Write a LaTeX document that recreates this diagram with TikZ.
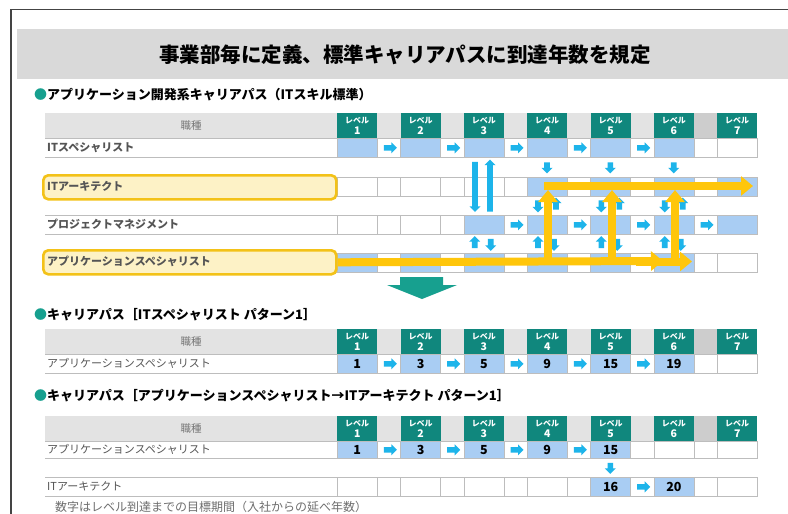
\documentclass[tikz,border=0pt]{standalone}
\usepackage{fontspec}
\setmainfont{Noto Sans CJK JP}
\usetikzlibrary{shapes.arrows,arrows.meta}
\definecolor{teal1}{HTML}{10877D}
\definecolor{teal2}{HTML}{17A08F}
\definecolor{cellblue}{HTML}{A9CDF3}
\definecolor{arrblue}{HTML}{1DB4EA}
\definecolor{ylw}{HTML}{FFC60B}
\definecolor{ylwfill}{HTML}{FDF2C6}
\definecolor{ylwline}{HTML}{F3C218}
\definecolor{hdrgray}{HTML}{E3E3E3}
\definecolor{hdrdark}{HTML}{CDCDCD}
\definecolor{linegray}{HTML}{BDBDBD}
\definecolor{txtgray}{HTML}{555555}
\definecolor{titlegray}{HTML}{D9D9D9}
\definecolor{framec}{HTML}{444444}
\tikzset{
  cellbox/.style={draw=linegray, line width=0.6pt, minimum width=40pt, inner sep=0pt, anchor=north west},
  gapbox/.style={draw=linegray, line width=0.6pt, minimum width=23.33pt, inner sep=0pt, anchor=north west, fill=white},
  lvl/.style={fill=teal1, minimum width=40pt, minimum height=25pt, inner sep=0pt, anchor=north west,
    text=white, align=center, font=\bfseries\fontsize{10.5}{11}\selectfont},
  hdrtext/.style={text=txtgray!80, font=\fontsize{10.5}{12}\selectfont},
  rowlabel/.style={anchor=west, text=txtgray, inner sep=0pt, font=\bfseries\fontsize{11}{12}\selectfont},
  rowlabelb/.style={anchor=west, text=txtgray, inner sep=0pt, font=\fontsize{11}{12}\selectfont},
  heading/.style={anchor=west, inner sep=0pt, font=\bfseries\fontsize{13}{14}\selectfont},
  num/.style={inner sep=0pt, font=\bfseries\fontsize{12.5}{12}\selectfont},
  barr/.style={single arrow, fill=arrblue, draw=none, inner xsep=0pt, inner ysep=2.6pt,
    text height=0pt, text depth=0pt, text width=0pt, minimum width=10.5pt,
    single arrow head extend=2.7pt, minimum height=13pt},
  varr/.style={barr, inner xsep=2.6pt, inner ysep=0pt},
  ybox/.style={draw=ylwline, line width=2.6pt, fill=ylwfill, rounded corners=5pt, anchor=north west,
    minimum width=293pt, minimum height=24pt, inner sep=0pt},
  yarr/.style={draw=ylw, line width=8pt, -{Triangle[width=19pt,length=12pt]}},
}
\newcommand\mkhead[2]{%
  \fill[hdrgray] (45,#2) rectangle (757,{#2+25});
  \fill[hdrdark] (694,#2) rectangle (717,{#2+25});
  \node[hdrtext] (#1h) at (191,{#2+12.5}) {職種};
  \foreach \i in {1,...,7}{%
    \node[lvl] (#1v\i) at ({337+(\i-1)*63.333},#2) {{\fontsize{8}{8}\selectfont レベル}\\\i};}%
}
\newcommand\mkrow[5]{%
  \draw[linegray, line width=0.6pt] (45,#2) -- (757,#2) (45,{#2+#3}) -- (757,{#2+#3});
  \foreach \i in {1,...,7}{%
    \ifnum\i<#4 \def\cf{white}\else\ifnum\i>#5 \def\cf{white}\else\def\cf{cellblue}\fi\fi
    \node[cellbox, fill=\cf, minimum height=#3pt] (#1c\i) at ({337+(\i-1)*63.333},#2) {};}%
  \foreach \i in {1,...,6}{%
    \node[gapbox, minimum height=#3pt] (#1g\i) at ({377+(\i-1)*63.333},#2) {};}%
}
\begin{document}
\begin{tikzpicture}[x=1pt,y=-1pt]
\useasboundingbox (0,0) rectangle (788,514);
\fill[white] (0,0) rectangle (788,514);
% frame
\draw[framec, line width=1.2pt] (11,514) -- (11,9.5) -- (788,9.5);
% title
\fill[titlegray] (17,29) rectangle (788,79);
\node[font=\bfseries\fontsize{20.5}{22}\selectfont] (title) at (405,55) {事業部毎に定義、標準キャリアパスに到達年数を規定};

% ===== table 1 =====
\node[heading] (h1) at (34,95) {\textcolor{teal2}{●}アプリケーション開発系キャリアパス（ITスキル標準）};
\mkhead{a}{113}
\mkrow{a}{138}{19}{1}{6}
\mkrow{b}{177}{19}{4}{7}
\mkrow{c}{215}{19}{3}{7}
\mkrow{d}{253}{19}{1}{6}

% blue horizontal arrows
\foreach \i in {1,...,5}{\node[barr] (ara\i) at (ag\i) {};}
\foreach \i in {3,...,6}{\node[barr] (arc\i) at (cg\i) {};}
% blue vertical arrows
\node[varr, shape border rotate=270, minimum height=50pt] (v1) at (475,185.5) {};
\node[varr, shape border rotate=90, minimum height=52pt] (v2) at (490,187) {};
\foreach \x [count=\k] in {547,610.3,673.7}{%
  \node[varr, shape border rotate=270, minimum height=11pt] (sd\k) at (\x,166.5) {};
  \node[varr, shape border rotate=270, minimum height=12pt] (pd\k) at (\x-9,205) {};
  \node[varr, shape border rotate=90, minimum height=12pt] (pu\k) at (\x+9,205) {};}
\foreach \x [count=\k] in {483.7,547,610.3,673.7}{%
  \node[varr, shape border rotate=90, minimum height=12pt] (qu\k) at (\x-9,243.5) {};
  \node[varr, shape border rotate=270, minimum height=12pt] (qd\k) at (\x+7,243.5) {};}

% labels
\node[rowlabel] (la) at (47,147.5) {ITスペシャリスト};
\node[ybox] (bbox) at (42,174) {};
\node[rowlabel] (lb) at (47,186) {ITアーキテクト};
\node[rowlabel] (lc) at (47,224.5) {プロジェクトマネジメント};
\node[ybox] (dbox) at (42,249) {};
\node[rowlabel] (ld) at (47,261) {アプリケーションスペシャリスト};

% yellow arrows
\coordinate (ye1) at (663,261);
\coordinate (ys2) at (636,261.5);
\coordinate (ye2) at (692,261.5);
\draw[yarr] (dbox.east) -- (ye1);
\draw[yarr] (ys2) -- (ye2);
\foreach \x [count=\k] in {548,612,675}{%
  \coordinate (yvs\k) at (\x,265);
  \coordinate (yve\k) at (\x,190);
  \draw[yarr] (yvs\k) -- (yve\k);}
\coordinate (yhs) at (544,186);
\coordinate (yhe) at (753,186);
\draw[yarr] (yhs) -- (yhe);

% green arrow
\fill[teal2] (400,277) -- (443,277) -- (443,285) -- (457,285) -- (422,299) -- (387,285) -- (400,285) -- cycle;

% ===== table 2 =====
\node[heading] (h2) at (34,315) {\textcolor{teal2}{●}キャリアパス［ITスペシャリスト パターン1］};
\mkhead{t}{329}
\mkrow{e}{354}{19}{1}{6}
\node[rowlabelb] (le) at (47,363.5) {アプリケーションスペシャリスト};
\foreach \i/\n in {1/1,2/3,3/5,4/9,5/15,6/19}{\node[num] (en\i) at (ec\i) {\n};}
\foreach \i in {1,...,5}{\node[barr] (are\i) at (eg\i) {};}

% ===== table 3 =====
\node[heading] (h3) at (34,396) {\textcolor{teal2}{●}キャリアパス［アプリケーションスペシャリスト→ITアーキテクト パターン1］};
\mkhead{u}{416}
\mkrow{f}{441}{17}{1}{5}
\mkrow{g}{477}{19}{5}{6}
\node[rowlabelb] (lf) at (47,449.5) {アプリケーションスペシャリスト};
\node[rowlabelb] (lg) at (47,486.5) {ITアーキテクト};
\foreach \i/\n in {1/1,2/3,3/5,4/9,5/15}{\node[num] (fn\i) at (fc\i) {\n};}
\foreach \i in {1,...,4}{\node[barr] (arf\i) at (fg\i) {};}
\node[num] (gn5) at (gc5) {16};
\node[num] (gn6) at (gc6) {20};
\node[barr] (arg5) at (gg5) {};
\node[varr, shape border rotate=270, minimum height=11pt] (fdown) at (610.3,467) {};

% footer
\node[anchor=west, inner sep=0pt, text=txtgray!85, font=\fontsize{12}{12}\selectfont] (foot) at (55,507) {数字はレベル到達までの目標期間（入社からの延べ年数）};
\end{tikzpicture}
\end{document}
